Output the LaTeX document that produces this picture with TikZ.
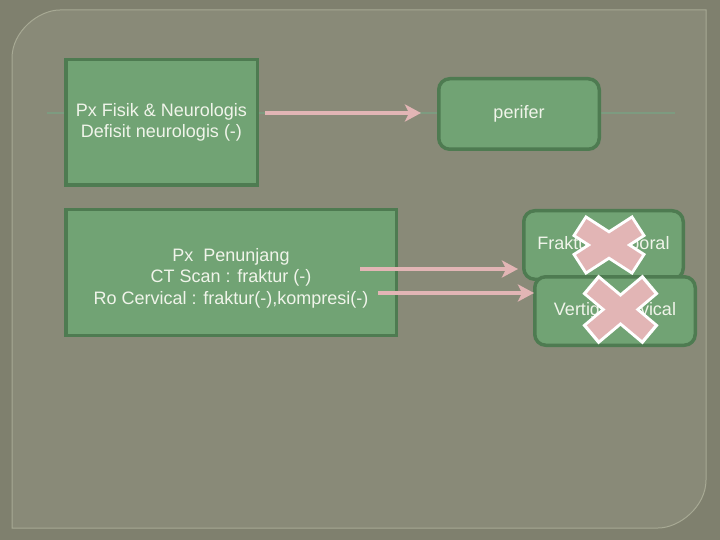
\documentclass[tikz,border=0pt]{standalone}
\usepackage{fontspec}
\setmainfont{Liberation Sans}
\usetikzlibrary{arrows.meta}
\definecolor{outerbg}{HTML}{7F806E}
\definecolor{innerbg}{HTML}{898A78}
\definecolor{frameline}{HTML}{A7A994}
\definecolor{boxfill}{HTML}{71A374}
\definecolor{boxdraw}{HTML}{4E7B51}
\definecolor{boxtext}{HTML}{F0F4EA}
\definecolor{pinkarrow}{HTML}{E2B5B5}
\definecolor{guideline}{HTML}{7D9B80}
\begin{document}
\begin{tikzpicture}[x=1pt,y=-1pt,
  box/.style={draw=boxdraw, fill=boxfill, line width=3.5pt, text=boxtext,
    font=\fontsize{18}{21.5}\selectfont, align=center, inner sep=0pt},
  rbox/.style={box, rounded corners=11pt},
  flow/.style={draw=pinkarrow, line width=4.5pt,
    -{Stealth[length=16pt,width=17pt,inset=4pt]}},
  xwhite/.style={draw=white, line width=25pt},
  xpink/.style={draw=pinkarrow, line width=19pt},
]
% background and frame
\fill[outerbg] (0,0) rectangle (720,540);
\useasboundingbox (0,0) rectangle (720,540);
\filldraw[fill=innerbg, draw=frameline, line width=1pt]
  (12,528) -- (12,58) .. controls (12,31.5) and (38.5,10) .. (60,10)
  -- (706,10) -- (706,480) .. controls (706,506.5) and (679.5,528) .. (658,528)
  -- cycle;
\draw[guideline, line width=1.5pt] (47,113) -- (675,113);

% boxes
\node[box, minimum width=191.5pt, minimum height=125.5pt] (fisik) at (161.5,122.5)
  {Px Fisik \& Neurologis\\Defisit neurologis (-)};
\node[rbox, minimum width=160.5pt, minimum height=70.5pt] (perifer) at (519,114) {perifer};
\node[box, minimum width=330.5pt, minimum height=125.5pt] (penunjang) at (231,272.5)
  {\rule{0pt}{24pt}Px\ \ Penunjang\\CT Scan : fraktur (-)\\Ro Cervical : fraktur(-),kompresi(-)};
\node[rbox, minimum width=159.5pt, minimum height=68.5pt] (fraktur) at (603.5,245) {Fraktur temporal};

% cross over Fraktur
\draw[xwhite] (578.8,225.5) -- (639.2,264.5);
\draw[xwhite] (578.8,264.5) -- (639.2,225.5);
\draw[xpink] (581.3,227.1) -- (636.7,262.9);
\draw[xpink] (581.3,262.9) -- (636.7,227.1);

\node[rbox, minimum width=160.5pt, minimum height=68.5pt] (vertigo) at (615,311) {Vertigo cervical};

% cross over Vertigo
\draw[xwhite] (590.4,284.2) -- (650.6,334.8);
\draw[xwhite] (590.4,334.8) -- (650.6,284.2);
\draw[xpink] (592.9,286.4) -- (648.1,332.6);
\draw[xpink] (592.9,332.6) -- (648.1,286.4);

% connectors
\coordinate (a1s) at (265,113);
\coordinate (a1e) at (421,113);
\coordinate (a2s) at (360,269);
\coordinate (a2e) at (518,269);
\coordinate (a3s) at (378,293);
\coordinate (a3e) at (534,293);
\draw[flow] (a1s) -- (a1e);
\draw[flow] (a2s) -- (a2e);
\draw[flow] (a3s) -- (a3e);
\end{tikzpicture}
\end{document}
